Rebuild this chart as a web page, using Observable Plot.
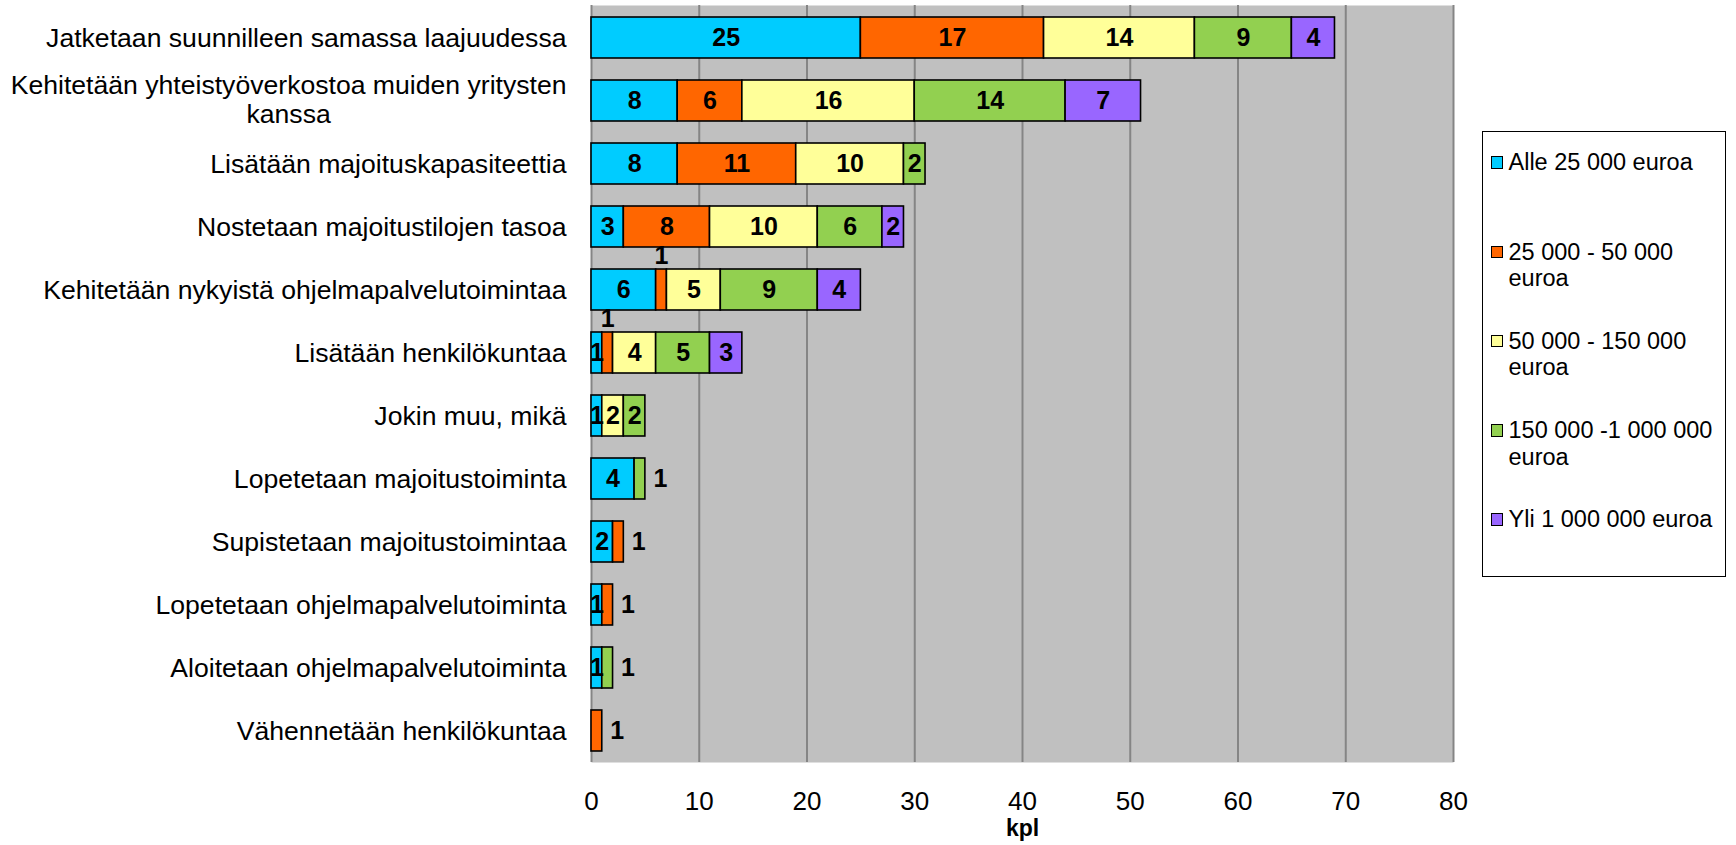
<!DOCTYPE html>
<html><head><meta charset="utf-8">
<script src="https://cdn.jsdelivr.net/npm/d3@7"></script>
<script src="https://cdn.jsdelivr.net/npm/@observablehq/plot@0.6"></script>
<style>
body{margin:0;background:#fff;}
#wrap{position:relative;width:1736px;height:845px;font-family:"Liberation Sans",Arial,sans-serif;}
#legend{position:absolute;left:1482px;top:131px;width:244px;height:446px;box-sizing:border-box;border:1.5px solid #000;background:#fff;}
.item{position:absolute;left:0;width:240px;font-size:23.5px;line-height:26.5px;color:#000;}
.sw{position:absolute;left:7.5px;width:12.5px;height:12.5px;box-sizing:border-box;border:1.5px solid #000;}
.lt{position:absolute;left:25.5px;width:214px;}
</style></head><body><div id="wrap"></div>
<script>
const categories = [
  "Jatketaan suunnilleen samassa laajuudessa",
  "Kehitetään yhteistyöverkostoa muiden yritysten kanssa",
  "Lisätään majoituskapasiteettia",
  "Nostetaan majoitustilojen tasoa",
  "Kehitetään nykyistä ohjelmapalvelutoimintaa",
  "Lisätään henkilökuntaa",
  "Jokin muu, mikä",
  "Lopetetaan majoitustoiminta",
  "Supistetaan majoitustoimintaa",
  "Lopetetaan ohjelmapalvelutoiminta",
  "Aloitetaan ohjelmapalvelutoiminta",
  "Vähennetään henkilökuntaa"
];
const series = [
  "Alle 25 000 euroa",
  "25 000 - 50 000 euroa",
  "50 000 - 150 000 euroa",
  "150 000 -1 000 000 euroa",
  "Yli 1 000 000 euroa"
];
const colors = ["#00CCFF", "#FF6600", "#FFFF99", "#92D050", "#9966FF"];
const alle25k   = [25, 8, 8, 3, 6, 1, 1, 4, 2, 1, 1, 0];
const v25k50k   = [17, 6, 11, 8, 1, 1, 0, 0, 1, 1, 0, 1];
const v50k150k  = [14, 16, 10, 10, 5, 4, 2, 0, 0, 0, 0, 0];
const v150k1m   = [9, 14, 2, 6, 9, 5, 2, 1, 0, 0, 1, 0];
const yli1m     = [4, 7, 0, 2, 4, 3, 0, 0, 0, 0, 0, 0];
const xTicks = [0, 10, 20, 30, 40, 50, 60, 70, 80];
const xLabel = "kpl";

const seriesValues = [alle25k, v25k50k, v50k150k, v150k1m, yli1m];

// Build the long table (zeros dropped; label placement derived by rule)
const table = [];
categories.forEach((c, r) => {
  const nz = seriesValues.map((arr, s) => ({v: arr[r], s})).filter(o => o.v > 0);
  nz.forEach((o, k) => {
    const last = k === nz.length - 1;
    const pos = (o.v === 1 && last) ? "right" : (o.v === 1 && k > 0 ? "above" : "in");
    table.push({cat: c, series: series[o.s], value: o.v, pos});
  });
});

const font = "'Liberation Sans', Arial, sans-serif";
const labelSize = 26.6;
const ctx = document.createElement("canvas").getContext("2d");
ctx.font = labelSize + "px 'Liberation Sans'";
function wrap(text, maxW) {
  const words = text.split(" ");
  const lines = [];
  let cur = "";
  for (const w of words) {
    const t = cur ? cur + " " + w : w;
    if (cur && ctx.measureText(t).width > maxW) { lines.push(cur); cur = w; }
    else cur = t;
  }
  if (cur) lines.push(cur);
  return lines;
}

const singles = [];
const multiMarks = [];
categories.forEach(c => {
  const L = wrap(c, 580);
  if (L.length === 1) singles.push(c);
  else {
    const bw = d3.max(L, l => ctx.measureText(l).width);
    L.forEach((l, i) => {
      multiMarks.push(Plot.text([c], {
        y: d => d, text: () => l, frameAnchor: "left", textAnchor: "middle",
        dx: -25 - bw / 2, dy: (i - (L.length - 1) / 2) * 28.5 - 1,
        fontSize: labelSize, fill: "#000"
      }));
    });
  }
});

const st = {x: "value", y: "cat", z: "series"};
const lbl = {text: "value", fontWeight: "bold", fontSize: 25, fill: "#000"};

const chart = Plot.plot({
  width: 1736,
  height: 845,
  marginLeft: 591,
  marginRight: 283,
  marginTop: 5,
  marginBottom: 83,
  style: {fontFamily: font, fontSize: "26px", color: "#000", background: "transparent"},
  x: {domain: [0, 80]},
  y: {domain: categories, axis: null, paddingInner: 0.357, paddingOuter: 0.1785},
  color: {domain: series, range: colors, legend: false},
  marks: [
    Plot.frame({fill: "#C0C0C0", stroke: null}),
    Plot.gridX({ticks: xTicks.filter(t => t > 0), stroke: "#858585", strokeOpacity: 1, strokeWidth: 2}),
    Plot.ruleX([0], {stroke: "#858585", strokeWidth: 2}),
    Plot.barX(table, Plot.stackX({...st, fill: "series", stroke: "#000", strokeWidth: 1.6})),
    Plot.text(table, Plot.filter(d => d.pos === "in", Plot.stackX({...st, ...lbl}))),
    Plot.text(table, Plot.filter(d => d.pos === "above", Plot.stackX({...st, ...lbl, dy: -34}))),
    Plot.text(table, Plot.filter(d => d.pos === "right", Plot.stackX2({...st, ...lbl, dx: 15}))),
    Plot.axisX({ticks: xTicks, tickSize: 0, tickPadding: 29, fontSize: 26, label: null}),
    Plot.text([xLabel], {frameAnchor: "bottom", dy: 73, fontWeight: "bold", fontSize: 23, fill: "#000"}),
    Plot.text(singles, {y: d => d, text: d => d, frameAnchor: "left", textAnchor: "end", dx: -25, fontSize: labelSize, fill: "#000"}),
    ...multiMarks
  ]
});

const wrapEl = document.getElementById("wrap");
wrapEl.appendChild(chart);

// Legend
const legend = document.createElement("div");
legend.id = "legend";
series.forEach((s, i) => {
  const cy = 30.5 + i * 89.3;
  const item = document.createElement("div");
  item.className = "item";
  item.style.top = (cy - 13.25) + "px";
  const sw = document.createElement("div");
  sw.className = "sw";
  sw.style.background = colors[i];
  sw.style.top = (13.25 - 6.25) + "px";
  const t = document.createElement("div");
  t.className = "lt";
  t.textContent = s;
  item.appendChild(sw);
  item.appendChild(t);
  legend.appendChild(item);
});
wrapEl.appendChild(legend);
</script>
</body></html>
